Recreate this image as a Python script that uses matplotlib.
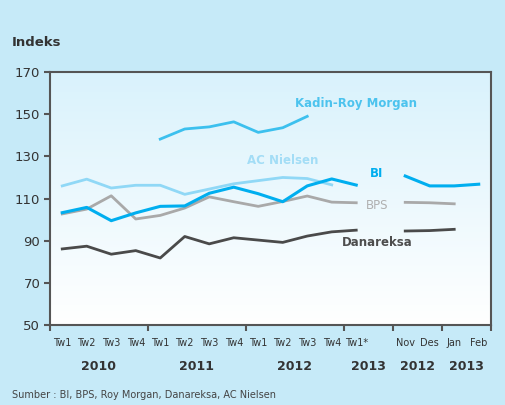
import matplotlib.pyplot as plt
import numpy as np

plt.rcParams['font.family'] = ['Liberation Sans Narrow', 'DejaVu Sans']

nan = np.nan
# slot labels (slot 13 kosong = jeda antara triwulan dan bulanan)
labels = ['Tw1', 'Tw2', 'Tw3', 'Tw4', 'Tw1', 'Tw2', 'Tw3', 'Tw4',
          'Tw1', 'Tw2', 'Tw3', 'Tw4', 'Tw1*', '', 'Nov', 'Des', 'Jan', 'Feb']
years = ['2010', '2011', '2012', '2013', '2012', '2013']
year_pos = [2, 6, 10, 13, 15, 17]
group_ticks = [0, 4, 8, 12, 14, 16, 18]

kadin = [nan, nan, nan, nan, 138.2, 143, 144, 146.4,
         141.4, 143.6, 149, nan, nan, nan, nan, nan, nan, nan]
nielsen = [116, 119.2, 115, 116.3, 116.3, 112, 114.5, 117,
           118.5, 120, 119.5, 116.5, nan, nan, nan, nan, nan, nan]
bi = [103.3, 105.8, 99.5, 103.2, 106.3, 106.5, 112.5, 115.4,
      112.3, 108.5, 116, 119.3, 116.4, nan, 120.7, 116, 116, 116.8]
bps = [102.7, 105, 111.3, 100.3, 102, 105.5, 110.8, 108.5,
       106.3, 108.6, 111.2, 108.3, 108, nan, 108.2, 108, 107.5, nan]
danareksa = [86.1, 87.4, 83.6, 85.3, 81.8, 92, 88.5, 91.4,
             90.3, 89.2, 92.2, 94.2, 95, nan, 94.6, 94.8, 95.4, nan]

x = np.arange(len(labels)) + 0.5

fig = plt.figure(figsize=(5.06, 4.05), dpi=100)
fig.patch.set_facecolor('#c6eaf8')
ax = fig.add_axes([0.0988, 0.1975, 0.8715, 0.6245])

# gradasi latar
grad = np.linspace(0, 1, 256).reshape(-1, 1)
cmap = plt.matplotlib.colors.LinearSegmentedColormap.from_list('g', ['#ffffff', '#d9f2fc'])
ax.imshow(grad, extent=[0, 1, 0, 1], transform=ax.transAxes, cmap=cmap,
          aspect='auto', origin='lower', zorder=0)

ax.plot(x, kadin, color='#3cc0ee', lw=2, zorder=3)
ax.plot(x, nielsen, color='#90d8f6', lw=2, zorder=3)
ax.plot(x, bps, color='#a9a9a9', lw=2, zorder=3)
ax.plot(x, danareksa, color='#4a4a4a', lw=2, zorder=3)
ax.plot(x, bi, color='#00aeef', lw=2.2, zorder=4)

ax.text(12.5, 155, 'Kadin-Roy Morgan', color='#4cc3ee', fontsize=8.5,
        fontweight='bold', ha='center', va='center')
ax.text(9.5, 128, 'AC Nielsen', color='#a3ddf6', fontsize=8.5,
        fontweight='bold', ha='center', va='center')
ax.text(13.35, 121.8, 'BI', color='#00aeef', fontsize=8.5,
        fontweight='bold', ha='center', va='center')
ax.text(13.35, 106.7, 'BPS', color='#b0b0b0', fontsize=8.5,
        ha='center', va='center')
ax.text(13.35, 89, 'Danareksa', color='#4d4d4d', fontsize=8.5,
        fontweight='bold', ha='center', va='center')

ax.set_xlim(0, 18)
ax.set_ylim(50, 170)
ax.set_yticks(range(50, 171, 20))
ax.set_xticks(group_ticks)
ax.set_xticklabels([])
ax.set_xticks(x, minor=True)
ax.set_xticklabels(labels, minor=True)
ax.tick_params(axis='x', which='minor', length=0, labelsize=7, colors='#333333', pad=9)
ax.tick_params(axis='x', which='major', length=4, width=1.5, color='#555555')
ax.tick_params(axis='y', length=4, width=1.5, color='#555555', labelsize=9.5,
               labelcolor='#333333', pad=3)
for s in ax.spines.values():
    s.set_color('#555555')
    s.set_linewidth(1.5)

for yr, p in zip(years, year_pos):
    ax.text(p, -0.165, yr, transform=ax.get_xaxis_transform(), ha='center',
            va='center', fontsize=9, fontweight='bold', color='#333333')

fig.text(12 / 506, 1 - 43 / 405, 'Indeks', fontsize=9.5, fontweight='bold',
         color='#333333', va='center')
fig.text(12 / 506, 1 - 395 / 405, 'Sumber : BI, BPS, Roy Morgan, Danareksa, AC Nielsen',
         fontsize=7, color='#444444', va='center')

fig.savefig('out.png', dpi=100, facecolor=fig.get_facecolor())
